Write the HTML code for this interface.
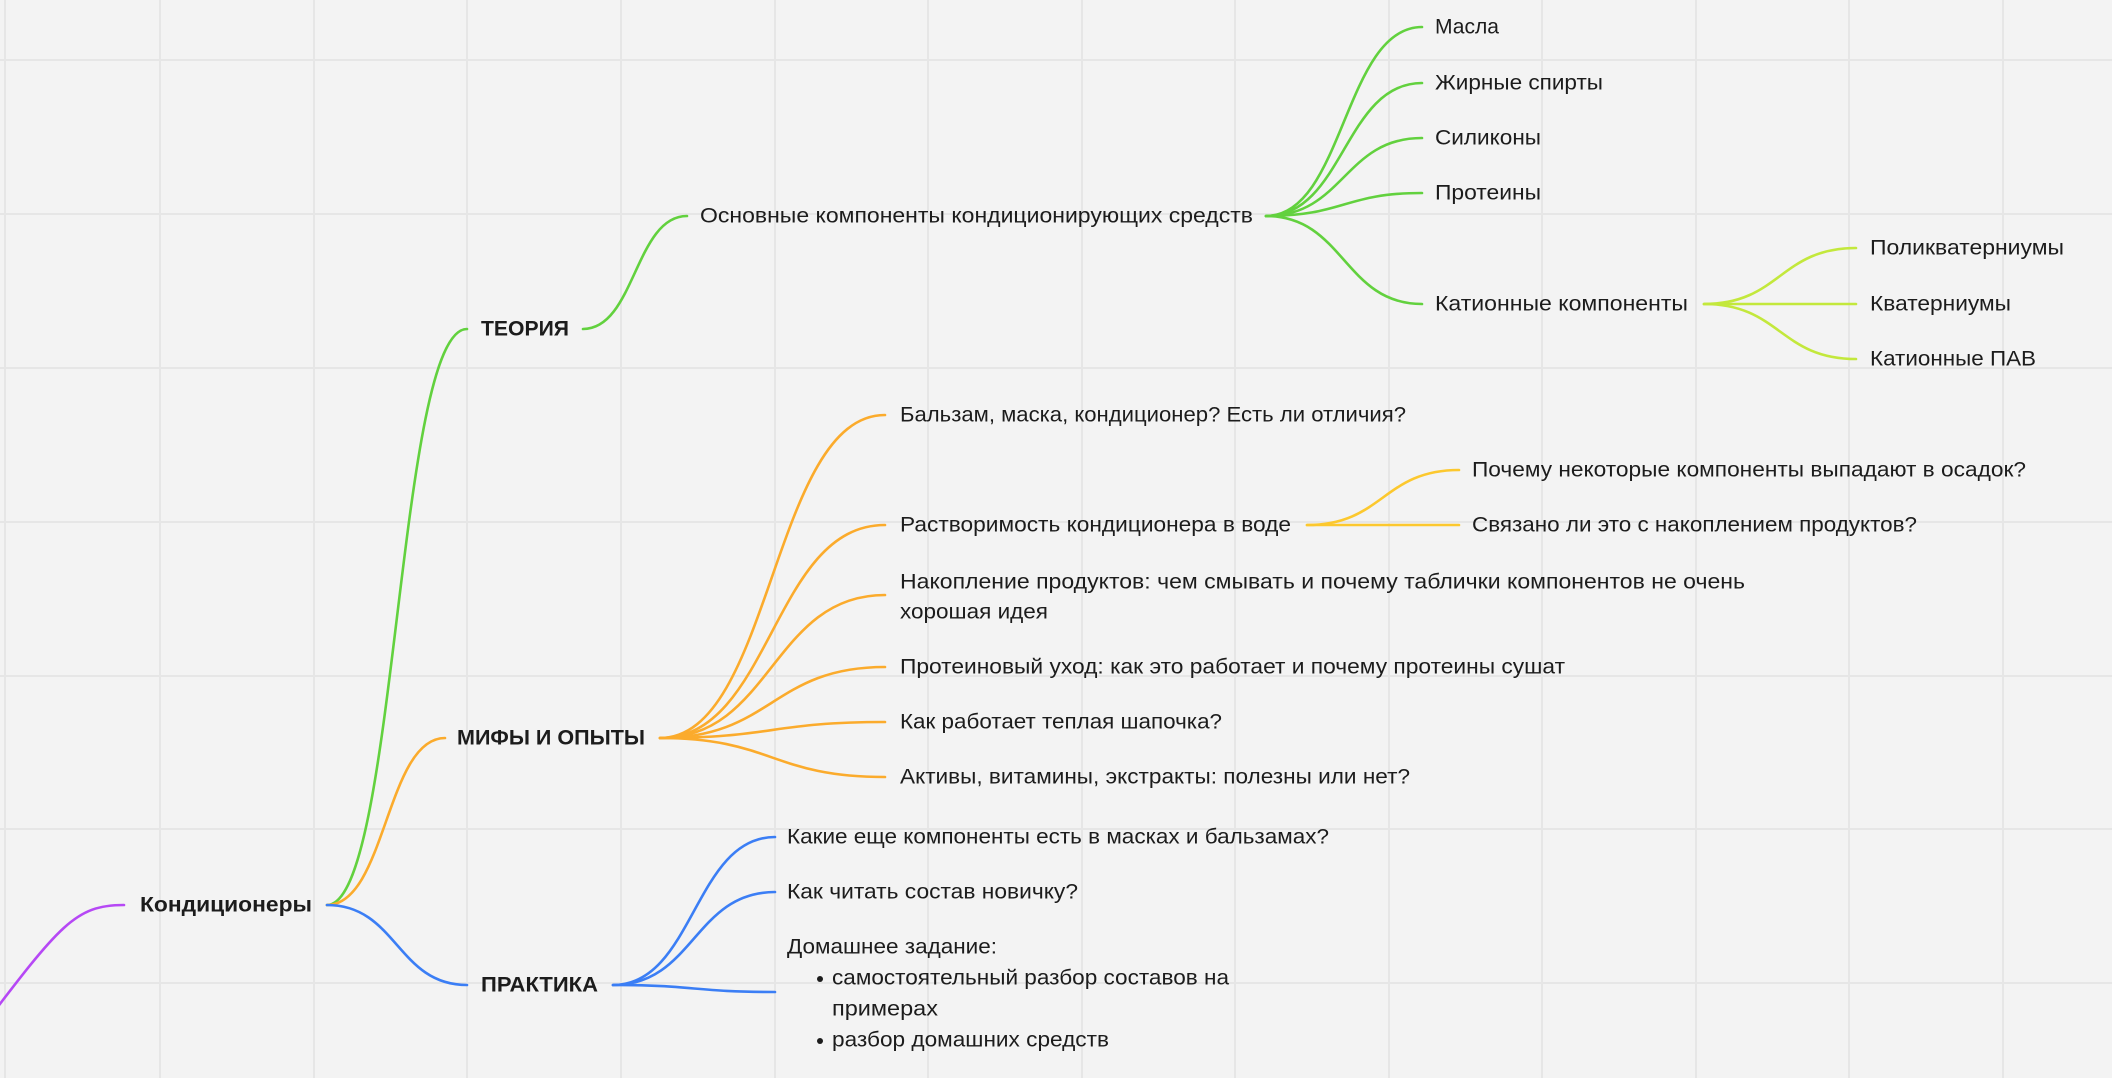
<!DOCTYPE html>
<html><head><meta charset="utf-8"><style>
html,body{margin:0;padding:0;background:#f3f3f3;}
svg{display:block}
text{font-family:"Liberation Sans","DejaVu Sans",sans-serif;font-size:21px;fill:#1c1c1c;dominant-baseline:central}
.b{font-weight:bold}
</style></head><body>
<svg width="2112" height="1078" viewBox="0 0 2112 1078" xmlns="http://www.w3.org/2000/svg">
<rect width="2112" height="1078" fill="#f3f3f3"/>
<g stroke="#e6e6e6" stroke-width="2">
<line x1="5" y1="0" x2="5" y2="1078"/><line x1="160" y1="0" x2="160" y2="1078"/><line x1="314" y1="0" x2="314" y2="1078"/><line x1="467" y1="0" x2="467" y2="1078"/><line x1="621" y1="0" x2="621" y2="1078"/><line x1="775" y1="0" x2="775" y2="1078"/><line x1="928" y1="0" x2="928" y2="1078"/><line x1="1082" y1="0" x2="1082" y2="1078"/><line x1="1235" y1="0" x2="1235" y2="1078"/><line x1="1389" y1="0" x2="1389" y2="1078"/><line x1="1542" y1="0" x2="1542" y2="1078"/><line x1="1696" y1="0" x2="1696" y2="1078"/><line x1="1849" y1="0" x2="1849" y2="1078"/><line x1="2003" y1="0" x2="2003" y2="1078"/>
<line x1="0" y1="60" x2="2112" y2="60"/><line x1="0" y1="214" x2="2112" y2="214"/><line x1="0" y1="368" x2="2112" y2="368"/><line x1="0" y1="522" x2="2112" y2="522"/><line x1="0" y1="676" x2="2112" y2="676"/><line x1="0" y1="829" x2="2112" y2="829"/><line x1="0" y1="983" x2="2112" y2="983"/>
</g>
<g fill="none" stroke-width="2.6" stroke-linecap="round">
<path d="M-20 1030 C60 925 75 905 124 905" stroke="#b648f5"/>
<path d="M327 905 C397 905 397 329 467 329" stroke="#62d13e"/>
<path d="M583 329 C635 329 635 216 687 216" stroke="#62d13e"/>
<g stroke="#62d13e">
<path d="M1266 216 C1344 216 1344 27 1422 27"/>
<path d="M1266 216 C1344 216 1344 83 1422 83"/>
<path d="M1266 216 C1344 216 1344 138 1422 138"/>
<path d="M1266 216 C1344 216 1344 193 1422 193"/>
<path d="M1266 216 C1344 216 1344 304 1422 304"/>
</g>
<g stroke="#c3e83c">
<path d="M1704 304 C1780 304 1780 248 1856 248"/>
<path d="M1704 304 L1856 304"/>
<path d="M1704 304 C1780 304 1780 359 1856 359"/>
</g>
<path d="M327 905 C386 905 386 738 445 738" stroke="#fbab2c"/>
<g stroke="#fbab2c">
<path d="M660 738 C772 738 772 415 885 415"/>
<path d="M660 738 C772 738 772 525 885 525"/>
<path d="M660 738 C772 738 772 595 885 595"/>
<path d="M660 738 C772 738 772 667 885 667"/>
<path d="M660 738 C772 738 772 722 885 722"/>
<path d="M660 738 C772 738 772 777 885 777"/>
</g>
<g stroke="#fcc82e">
<path d="M1307 525 C1383 525 1383 470 1459 470"/>
<path d="M1307 525 L1459 525"/>
</g>
<path d="M327 905 C397 905 397 985 467 985" stroke="#3b7ef5"/>
<g stroke="#3b7ef5">
<path d="M613 985 C694 985 694 837 775 837"/>
<path d="M613 985 C694 985 694 892 775 892"/>
<path d="M613 985 C694 985 694 992 775 992"/>
</g>
</g>
<text class="b" x="140" y="905" textLength="172" lengthAdjust="spacingAndGlyphs">Кондиционеры</text>
<text class="b" x="481" y="329" textLength="88" lengthAdjust="spacingAndGlyphs">ТЕОРИЯ</text>
<text class="b" x="457" y="738" textLength="188" lengthAdjust="spacingAndGlyphs">МИФЫ И ОПЫТЫ</text>
<text class="b" x="481" y="985" textLength="117" lengthAdjust="spacingAndGlyphs">ПРАКТИКА</text>
<text x="700" y="216" textLength="553" lengthAdjust="spacingAndGlyphs">Основные компоненты кондиционирующих средств</text>
<text x="1435" y="27" textLength="64" lengthAdjust="spacingAndGlyphs">Масла</text>
<text x="1435" y="83" textLength="168" lengthAdjust="spacingAndGlyphs">Жирные спирты</text>
<text x="1435" y="138" textLength="106" lengthAdjust="spacingAndGlyphs">Силиконы</text>
<text x="1435" y="193" textLength="106" lengthAdjust="spacingAndGlyphs">Протеины</text>
<text x="1435" y="304" textLength="253" lengthAdjust="spacingAndGlyphs">Катионные компоненты</text>
<text x="1870" y="248" textLength="194" lengthAdjust="spacingAndGlyphs">Поликватерниумы</text>
<text x="1870" y="304" textLength="141" lengthAdjust="spacingAndGlyphs">Кватерниумы</text>
<text x="1870" y="359" textLength="166" lengthAdjust="spacingAndGlyphs">Катионные ПАВ</text>
<text x="900" y="415" textLength="506" lengthAdjust="spacingAndGlyphs">Бальзам, маска, кондиционер? Есть ли отличия?</text>
<text x="900" y="525" textLength="391" lengthAdjust="spacingAndGlyphs">Растворимость кондиционера в воде</text>
<text x="1472" y="470" textLength="554" lengthAdjust="spacingAndGlyphs">Почему некоторые компоненты выпадают в осадок?</text>
<text x="1472" y="525" textLength="445" lengthAdjust="spacingAndGlyphs">Связано ли это с накоплением продуктов?</text>
<text x="900" y="582" textLength="845" lengthAdjust="spacingAndGlyphs">Накопление продуктов: чем смывать и почему таблички компонентов не очень</text>
<text x="900" y="612" textLength="148" lengthAdjust="spacingAndGlyphs">хорошая идея</text>
<text x="900" y="667" textLength="665" lengthAdjust="spacingAndGlyphs">Протеиновый уход: как это работает и почему протеины сушат</text>
<text x="900" y="722" textLength="322" lengthAdjust="spacingAndGlyphs">Как работает теплая шапочка?</text>
<text x="900" y="777" textLength="510" lengthAdjust="spacingAndGlyphs">Активы, витамины, экстракты: полезны или нет?</text>
<text x="787" y="837" textLength="542" lengthAdjust="spacingAndGlyphs">Какие еще компоненты есть в масках и бальзамах?</text>
<text x="787" y="892" textLength="291" lengthAdjust="spacingAndGlyphs">Как читать состав новичку?</text>
<text x="787" y="947" textLength="210" lengthAdjust="spacingAndGlyphs">Домашнее задание:</text>
<circle cx="820" cy="979" r="3" fill="#1c1c1c"/>
<text x="832" y="978" textLength="397" lengthAdjust="spacingAndGlyphs">самостоятельный разбор составов на</text>
<text x="832" y="1009" textLength="106" lengthAdjust="spacingAndGlyphs">примерах</text>
<circle cx="820" cy="1041" r="3" fill="#1c1c1c"/>
<text x="832" y="1040" textLength="277" lengthAdjust="spacingAndGlyphs">разбор домашних средств</text>
</svg>
</body></html>
